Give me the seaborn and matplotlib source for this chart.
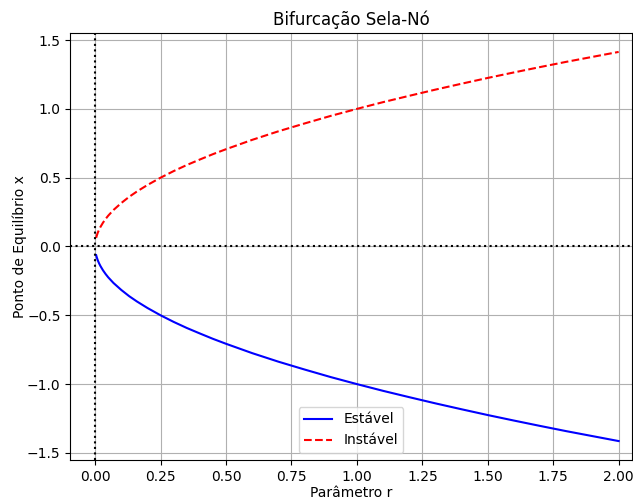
import matplotlib
matplotlib.use("Agg")
import matplotlib.pyplot as plt
import seaborn as sns
import pandas as pd

r_vals = [0.004, 0.006, 0.01, 0.015, 0.02, 0.03, 0.04, 0.05, 0.07, 0.1,
          0.13, 0.16, 0.2, 0.25, 0.3, 0.35, 0.4, 0.45, 0.5, 0.6, 0.7, 0.8,
          0.9, 1.0, 1.1, 1.2, 1.3, 1.4, 1.5, 1.6, 1.7, 1.8, 1.9, 2.0]
unstable_x = [0.063, 0.077, 0.100, 0.122, 0.141, 0.173, 0.200, 0.224, 0.265,
              0.316, 0.361, 0.400, 0.447, 0.500, 0.548, 0.592, 0.632, 0.671,
              0.707, 0.775, 0.837, 0.894, 0.949, 1.000, 1.049, 1.095, 1.140,
              1.183, 1.225, 1.265, 1.304, 1.342, 1.378, 1.414]
stable_x = [-v for v in [0.063, 0.077, 0.100, 0.122, 0.141, 0.173, 0.200,
            0.224, 0.265, 0.316, 0.361, 0.400, 0.447, 0.500, 0.548, 0.592,
            0.632, 0.671, 0.707, 0.775, 0.837, 0.894, 0.949, 1.000, 1.049,
            1.095, 1.140, 1.183, 1.225, 1.265, 1.304, 1.342, 1.378, 1.414]]

df_s = pd.DataFrame({"r": r_vals, "x": stable_x})
df_u = pd.DataFrame({"r": r_vals, "x": unstable_x})

fig = plt.figure(figsize=(6.33, 5.01), dpi=100)
ax = fig.add_axes([0.111, 0.082, 0.887, 0.852])

sns.lineplot(data=df_s, x="r", y="x", ax=ax, color="blue", label="Estável", estimator=None, sort=False)
sns.lineplot(data=df_u, x="r", y="x", ax=ax, color="red", linestyle="--", label="Instável", estimator=None, sort=False)
ax.axhline(0, color="black", linestyle=":", linewidth=1.5)
ax.axvline(0, color="black", linestyle=":", linewidth=1.5)

ax.set_xlim(-0.095, 2.05)
ax.set_ylim(-1.551, 1.551)
ax.set_xticks([0.0, 0.25, 0.5, 0.75, 1.0, 1.25, 1.5, 1.75, 2.0])
ax.set_yticks([-1.5, -1.0, -0.5, 0.0, 0.5, 1.0, 1.5])
ax.grid(True)
ax.set_title("Bifurcação Sela-Nó")
ax.set_xlabel("Parâmetro r", labelpad=2)
ax.set_ylabel("Ponto de Equilíbrio x", labelpad=0)
ax.legend(loc="lower center")

fig.savefig("out.png", dpi=100)
